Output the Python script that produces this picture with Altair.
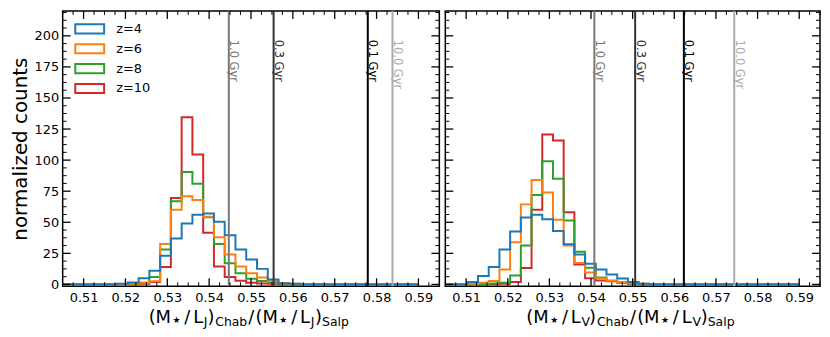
import altair as alt
import numpy as np
import pandas as pd

# ---------------- data ----------------
N_BINS = 35
EDGES = np.linspace(0.5, 0.59, N_BINS + 1)   # common bin edges of all histograms


def pad(start, vals):
    out = [0.0] * N_BINS
    for i, v in enumerate(vals):
        out[start + i] = v
    return out


Z_LABELS = ["z=4", "z=6", "z=8", "z=10"]
Z_COLORS = ["#1f77b4", "#ff7f0e", "#2ca02c", "#d62728"]

# left panel: (M*/L_J)Chab / (M*/L_J)Salp
J_Z4 = pad(7, [0.5, 1.5, 5, 11, 23, 37, 49, 56, 57, 50.5, 39.5, 28, 20, 12.5, 4, 1, 0.5])
J_Z6 = pad(8, [0.5, 1.5, 2.5, 32.5, 60, 71, 68, 54.5, 38, 24, 14.5, 9, 5.5, 2.5, 1, 0.5])
J_Z8 = pad(8, [0.3, 1, 6, 28, 67, 90.5, 81, 54, 32.5, 17, 9, 4.5, 2.7, 1.3, 0.5])
J_Z10 = pad(9, [0.5, 2, 14, 69.5, 134.5, 104.5, 41.5, 14.5, 6, 3, 1.3, 0.8, 0.5])

# right panel: (M*/L_V)Chab / (M*/L_V)Salp
V_Z4 = pad(4, [2, 6.7, 14, 28, 42.5, 53.8, 56, 52.4, 43, 32.3, 24, 16.7, 12, 8, 4.8, 1.9, 0.5])
V_Z6 = pad(4, [0.5, 1.3, 2.7, 12, 34, 64.4, 84, 74, 52, 31.4, 17.3, 9.6, 5, 3.2, 2, 1.3, 0.5])
V_Z8 = pad(5, [0.3, 0.8, 1.3, 7.2, 31.4, 72, 99, 85, 51.4, 26.3, 13.5, 5.6, 2.7, 1.9, 0.8, 0.3])
V_Z10 = pad(6, [0.3, 0.5, 1.9, 13.3, 60, 120.6, 115.8, 58, 16, 5, 3.2, 2.5, 1.3, 0.5])

AGE_LABELS = ["1.0 Gyr", "0.3 Gyr", "0.1 Gyr", "10.0 Gyr"]
AGE_COLORS = ["#777777", "#333333", "#000000", "#aaaaaa"]
AGE_X_J = [0.5447, 0.5554, 0.5779, 0.5838]
AGE_X_V = [0.5408, 0.5506, 0.5623, 0.5744]

X_TICKS = [0.51, 0.52, 0.53, 0.54, 0.55, 0.56, 0.57, 0.58, 0.59]
Y_TICKS = [0, 25, 50, 75, 100, 125, 150, 175, 200]

# ---------------- layout ----------------
W_L, W_R, H = 379, 377, 277
XDOM = [0.505, 0.595]
YDOM = [-1.5, 220]
FONT = "DejaVu Sans"

X_MINOR = [round(v, 4) for v in np.arange(0.505, 0.5951, 0.0025)
           if abs(v * 100 - round(v * 100)) > 1e-6]
Y_MINOR = [v for v in np.arange(0, 220, 6.25) if v % 25 != 0]


def step_df(counts, label):
    xs = [EDGES[0]] + list(EDGES[:-1]) + [EDGES[-1]]
    ys = [0.0] + list(counts) + [0.0]
    return pd.DataFrame({"x": xs, "y": ys, "z": label, "i": range(len(xs))})


def label_pieces(band, W):
    # mathtext-like axis title: (M*/L_b)_Chab/(M*/L_b)_Salp
    extra = 4.0 if band == "V" else 0.0
    total = 206.0 + 2 * extra
    x0 = W / 2 - total / 2
    main_b, sub_b, star_b = 313.5, 316.5, 313.5
    pieces = [
        ("(M", 0.0, main_b, 18), ("\u2605", 24.0, star_b, 9), ("/", 35.8, main_b, 18),
        ("L", 44.8, main_b, 18), (band, 55.5, sub_b, 12.5), (")", 59.1 + extra, main_b, 18),
        ("Chab", 67.0 + extra, sub_b, 12.5), ("/", 100.3 + extra, main_b, 18),
        ("(M", 107.5 + extra, main_b, 18), ("\u2605", 131.5 + extra, star_b, 9),
        ("/", 143.4 + extra, main_b, 18), ("L", 152.3 + extra, main_b, 18),
        (band, 163.1 + extra, sub_b, 12.5), (")", 167.4 + 2 * extra, main_b, 18),
        ("Salp", 174.5 + 2 * extra, sub_b, 12.5),
    ]
    return pd.DataFrame({"t": [p[0] for p in pieces],
                         "px": [x0 + p[1] for p in pieces],
                         "py": [p[2] for p in pieces],
                         "fs": [p[3] for p in pieces]})


def panel(series, age_x, band, W, left):
    xs = alt.Scale(domain=XDOM, nice=False, zero=False)
    ys = alt.Scale(domain=YDOM, nice=False, zero=False)
    cs = alt.Scale(domain=Z_LABELS, range=Z_COLORS)
    xaxis = alt.Axis(values=X_TICKS, format=".2f", labelFontSize=13, ticks=False, tickSize=0,
                     domain=False, grid=False, title=None, labelPadding=5, labelColor="black",
                     labelFont=FONT, labelFlush=False, labelOverlap=False)
    if left:
        yaxis = alt.Axis(values=Y_TICKS, labelFontSize=13, ticks=False, tickSize=0, domain=False,
                         grid=False, title="normalized counts", titleFontSize=20,
                         titleFontWeight="normal", titlePadding=4, labelPadding=4,
                         labelColor="black", titleColor="black", labelFont=FONT,
                         titleFont=FONT, labelFlush=False)
        # wide outline rectangles as legend patches (29 x 9 px), starting at the entry's left edge
        legend = alt.Legend(title=None, orient="none", legendX=11.3, legendY=10,
                            symbolType="M-1,-0.7H3.4V0.7H-1Z", symbolSize=174,
                            symbolStrokeWidth=2, symbolFillColor="transparent",
                            labelFontSize=13, labelOffset=26.5, rowPadding=4, padding=0,
                            clipHeight=16, labelFont=FONT, labelColor="black")
    else:
        yaxis = None
        legend = None

    layers = []
    for lab in ["z=10", "z=8", "z=6", "z=4"]:
        df = step_df(series[lab], lab)
        layers.append(
            alt.Chart(df).mark_line(interpolate="step-after", clip=True, strokeWidth=2).encode(
                x=alt.X("x:Q", scale=xs, axis=xaxis),
                y=alt.Y("y:Q", scale=ys, axis=yaxis),
                color=alt.Color("z:N", scale=cs, legend=legend),
                order=alt.Order("i:Q"),
            )
        )

    ages = pd.DataFrame({"x": age_x, "t": AGE_LABELS, "c": AGE_COLORS})
    layers.append(alt.Chart(ages).mark_rule(strokeWidth=2).encode(
        x=alt.X("x:Q", scale=xs, axis=xaxis),
        stroke=alt.Stroke("c:N", scale=None)))
    layers.append(alt.Chart(ages).mark_text(angle=90, align="left", baseline="alphabetic",
                                            fontSize=11.5, font=FONT, dy=-1.5).encode(
        x=alt.X("x:Q", scale=xs, axis=xaxis), y=alt.value(29),
        text="t:N", fill=alt.Fill("c:N", scale=None)))

    # inward ticks on all four sides
    for vals_x, vals_y, L, sw in [(X_TICKS, Y_TICKS, 8, 1.3), (X_MINOR, Y_MINOR, 4, 1.0)]:
        dx = pd.DataFrame({"x": vals_x})
        dy = pd.DataFrame({"y": vals_y})
        bx = alt.Chart(dx).mark_rule(color="black", strokeWidth=sw)
        by = alt.Chart(dy).mark_rule(color="black", strokeWidth=sw)
        layers.append(bx.encode(x=alt.X("x:Q", scale=xs, axis=xaxis), y=alt.value(H), y2=alt.value(H - L)))
        layers.append(bx.encode(x=alt.X("x:Q", scale=xs, axis=xaxis), y=alt.value(0), y2=alt.value(L)))
        layers.append(by.encode(y=alt.Y("y:Q", scale=ys, axis=yaxis), x=alt.value(0), x2=alt.value(L)))
        layers.append(by.encode(y=alt.Y("y:Q", scale=ys, axis=yaxis), x=alt.value(W), x2=alt.value(W - L)))

    layers.append(alt.Chart(label_pieces(band, W)).mark_text(
        align="left", baseline="alphabetic", font=FONT, color="black").encode(
        x=alt.X("px:Q", scale=None), y=alt.Y("py:Q", scale=None),
        text="t:N", size=alt.Size("fs:Q", scale=None)))

    return alt.layer(*layers).properties(width=W, height=H)


left = panel({"z=4": J_Z4, "z=6": J_Z6, "z=8": J_Z8, "z=10": J_Z10}, AGE_X_J, "J", W_L, True)
right = panel({"z=4": V_Z4, "z=6": V_Z6, "z=8": V_Z8, "z=10": V_Z10}, AGE_X_V, "V", W_R, False)

chart = alt.hconcat(left, right, spacing=2).resolve_scale(color="independent").properties(
    padding={"left": 1, "top": 0, "right": 0, "bottom": 0}
).configure(font=FONT).configure_view(stroke="black", strokeWidth=1.5)

chart.save("out.html", embed_options={"renderer": "svg", "actions": False})
